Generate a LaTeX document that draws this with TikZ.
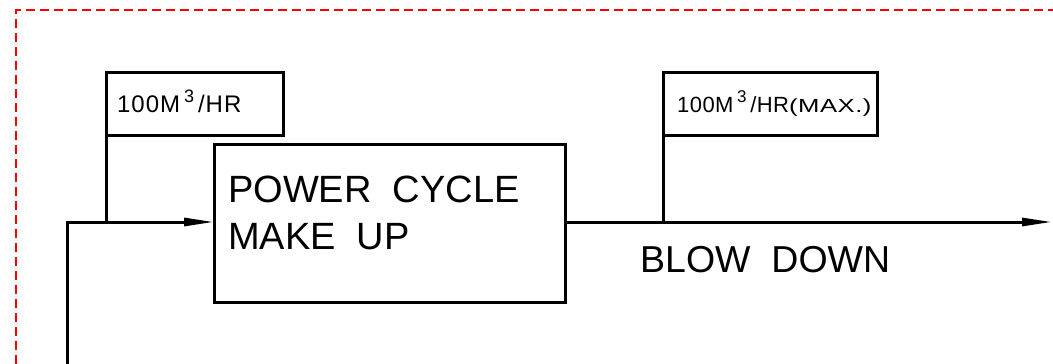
\documentclass[tikz,border=0pt]{standalone}
\usepackage{fontspec}
\setmainfont{Liberation Sans}
\usetikzlibrary{arrows.meta}
\begin{document}
\begin{tikzpicture}[x=1pt,y=-1pt,
  flow/.style={line width=3pt},
  box/.style={draw,line width=3pt,inner sep=0pt,outer sep=0pt,rectangle},
  flowtip/.style={-{Triangle[length=30pt,width=8pt]}},
  bigtext/.style={inner sep=0pt,anchor=base west,font=\fontsize{38}{46}\selectfont},
  smalltext/.style={inner sep=0pt,anchor=base west},
]
\useasboundingbox (0,0) rectangle (1053,364);
% unit boundary
\draw[red,line width=1.3pt,dash pattern=on 9pt off 5pt] (16,364) -- (16,10) -- (1053,10);

% process block
\node[box,minimum width=351pt,minimum height=158pt,anchor=north west] (pc) at (214,144) {};
\node[bigtext] (pct1) at (228,202) {POWER\ \ CYCLE};
\node[bigtext] (pct2) at (228,249) {MAKE\ \ UP};

% flow tags
\node[box,minimum width=177pt,minimum height=63pt,anchor=north west] (tagin) at (106,72) {};
\node[smalltext,font=\fontsize{24}{24}\selectfont\addfontfeature{LetterSpace=4}] (tagintxt) at (117,112)
  {100M\,\raisebox{10pt}{\fontsize{18}{18}\selectfont 3}\,/HR};
\node[box,minimum width=214pt,minimum height=63pt,anchor=north west] (tagout) at (663,72) {};
\node[smalltext,font=\fontsize{22}{22}\selectfont\addfontfeature{LetterSpace=2}] (tagouttxt) at (677,112)
  {100M\,\raisebox{10pt}{\fontsize{17}{17}\selectfont 3}\,/HR\scalebox{1.35}[1]{\fontsize{19}{19}\selectfont(MAX.)}};

% junctions and free ends
\coordinate (src) at (67,364);
\coordinate (bend) at (67,222);
\coordinate (jin) at (tagin.south west |- bend);
\coordinate (jout) at (tagout.south west |- bend);
\coordinate (sink) at (1052,222);

% make-up line into the block
\draw[flow,flowtip] (src) -- (bend) -- (pc.west |- bend);
\draw[flow] (tagin.south west) -- (jin);

% blow-down line out of the block
\draw[flow,flowtip] (pc.east |- sink) -- (sink);
\draw[flow] (tagout.south west) -- (jout);
\node[bigtext,font=\fontsize{37.5}{44}\selectfont] (bd) at (640,272) {BLOW\ \ DOWN};
\end{tikzpicture}
\end{document}
